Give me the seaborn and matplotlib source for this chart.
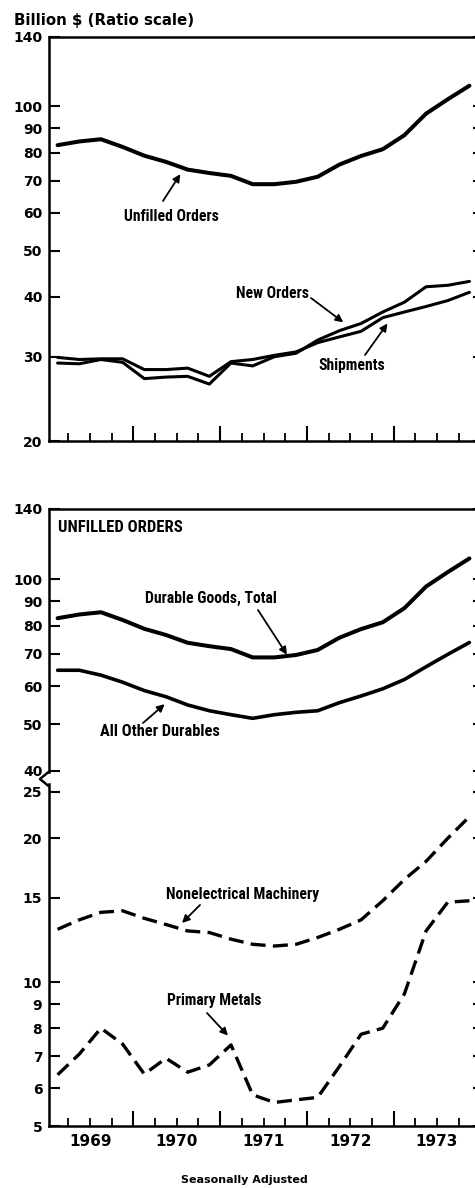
import matplotlib
matplotlib.use("Agg")
import matplotlib.pyplot as plt
from matplotlib.lines import Line2D
from matplotlib.ticker import FixedLocator, FixedFormatter, NullLocator
import seaborn as sns

# ── Data: durable goods, quarterly, Q1 1969 .. Q4 1973 (billion $) ──
years = [1969, 1970, 1971, 1972, 1973]
quarters = [(y, q) for y in years for q in (1, 2, 3, 4)]
t = [y + (q - 0.5) / 4 for y, q in quarters]

unfilled_total = [83.0, 84.5, 85.4, 82.3, 78.9, 76.6, 73.8, 72.6, 71.6, 68.8,
                  68.8, 69.6, 71.3, 75.6, 78.8, 81.4, 87.1, 96.6, 103.5, 110.5]
shipments = [29.9, 29.6, 29.7, 29.7, 28.2, 28.2, 28.4, 27.3, 29.3, 29.6,
             30.2, 30.7, 32.1, 33.0, 33.9, 36.2, 37.2, 38.2, 39.3, 40.9]
new_orders = [29.1, 29.0, 29.6, 29.2, 27.0, 27.2, 27.3, 26.3, 29.1, 28.7,
              30.0, 30.5, 32.5, 34.0, 35.2, 37.2, 39.0, 42.0, 42.3, 43.1]
all_other = [64.7, 64.7, 63.2, 61.1, 58.7, 57.0, 54.8, 53.3, 52.3, 51.4,
             52.3, 52.9, 53.3, 55.4, 57.2, 59.2, 61.9, 65.8, 69.8, 73.9]
nonelectrical = [12.9, 13.5, 14.0, 14.1, 13.6, 13.2, 12.8, 12.7, 12.3, 12.0,
                 11.9, 12.0, 12.4, 12.9, 13.5, 14.8, 16.4, 17.9, 20.0, 22.2]
primary_metals = [6.40, 7.07, 8.01, 7.42, 6.42, 6.93, 6.48, 6.71, 7.39, 5.81,
                  5.60, 5.67, 5.74, 6.66, 7.78, 8.01, 9.45, 12.8, 14.7, 14.8]

top_ticks = [20, 30, 40, 50, 60, 70, 80, 90, 100, 140]
upper_ticks = [40, 50, 60, 70, 80, 90, 100, 140]
lower_ticks = [5, 6, 7, 8, 9, 10, 15, 20, 25]

# ── Style ──
sns.set_style("ticks")
plt.rcParams["font.family"] = ["DejaVu Sans"]
plt.rcParams.update({
    "axes.linewidth": 1.8,
    "text.color": "black",
    "axes.edgecolor": "black",
    "axes.labelcolor": "black",
    "xtick.color": "black",
    "ytick.color": "black",
})
NARROW = ["Roboto Condensed", "Open Sans Condensed", "Liberation Sans Narrow",
          "Roboto", "DejaVu Sans"]

W, H = 475, 1188
fig = plt.figure(figsize=(W / 100, H / 100), dpi=100)
renderer = fig.canvas.get_renderer()


def px_axes(left, top, right, bottom):
    return fig.add_axes([left / W, 1 - bottom / H, (right - left) / W, (bottom - top) / H])


def fpx(x, y):
    return (x / W, 1 - y / H)


def label(text, x, y, width, ha="center"):
    # condensed label, sized so that it spans about `width` pixels
    txt = fig.text(*fpx(x, y), text, ha=ha, va="center", family=NARROW,
                   fontweight="bold", fontstretch="condensed", fontsize=11.5)
    w = txt.get_window_extent(renderer).width
    txt.set_fontsize(min(13.5, 11.5 * width / w))
    return txt


XLIM = (1969.02, 1974.043)
major_x = [1970, 1971, 1972, 1973]
minor_x = [y + f for y in years for f in (0.25, 0.5, 0.75)]
minor_lbl = [str(int(v)) if abs(v % 1 - 0.5) < 1e-6 else "" for v in minor_x]


def style_axes(ax, yticks, ylim, xlabels=False, xticks=True):
    ax.set_yscale("log")
    ax.set_ylim(*ylim)
    ax.set_xlim(*XLIM)
    ax.yaxis.set_major_locator(FixedLocator(yticks))
    ax.yaxis.set_major_formatter(FixedFormatter([str(v) for v in yticks]))
    ax.yaxis.set_minor_locator(NullLocator())
    ax.tick_params(axis="y", which="major", direction="in", length=8, width=1.5,
                   left=True, right=True, labelsize=10, pad=4.5)
    for lbl in ax.get_yticklabels():
        lbl.set_fontweight("bold")
    ax.xaxis.set_major_locator(FixedLocator(major_x))
    ax.xaxis.set_minor_locator(FixedLocator(minor_x))
    ax.xaxis.set_major_formatter(FixedFormatter([""] * len(major_x)))
    ax.xaxis.set_minor_formatter(FixedFormatter(minor_lbl if xlabels else [""] * len(minor_x)))
    ax.tick_params(axis="x", which="major", direction="in", length=11, width=1.5,
                   bottom=xticks, top=False)
    ax.tick_params(axis="x", which="minor", direction="in", length=5.5, width=1.3,
                   bottom=xticks, top=False, labelsize=11, pad=6)
    for lbl in ax.get_xticklabels(minor=True):
        lbl.set_fontweight("bold")
    ax.spines["right"].set_visible(False)
    ax.set_xlabel("")
    ax.set_ylabel("")


def draw(ax, values, lw=2.8, dashed=False):
    sns.lineplot(x=t, y=values, ax=ax, color="black", lw=lw,
                 solid_joinstyle="round", solid_capstyle="round")
    if dashed:
        ax.lines[-1].set_dashes([4.5, 2.2])


def arrow(ax, head, tail_px):
    ax.annotate("", xy=head, xycoords="data", xytext=fpx(*tail_px),
                textcoords="figure fraction",
                arrowprops=dict(arrowstyle="-|>", color="black", lw=1.3,
                                mutation_scale=11, shrinkA=0, shrinkB=0))


# ── Top panel: unfilled orders, new orders, shipments ──
ax1 = px_axes(48.5, 36.5, 484, 441)
draw(ax1, unfilled_total, lw=2.9)
draw(ax1, shipments, lw=2.2)
draw(ax1, new_orders, lw=2.2)
style_axes(ax1, top_ticks, (20, 140))

label("Unfilled Orders", 171, 216, 95)
arrow(ax1, (1970.54, 72.2), (163, 201))
label("New Orders", 272, 294, 73)
arrow(ax1, (1972.42, 35.4), (311, 298))
label("Shipments", 352, 365, 67)
arrow(ax1, (1972.93, 35.2), (365, 355))

fig.text(*fpx(14, 20), "Billion $ (Ratio scale)", ha="left", va="center",
         fontsize=10.8, fontweight="bold")

# ── Bottom panel, upper segment: total and all other durables ──
ax2 = px_axes(48.5, 509, 484, 776)
draw(ax2, unfilled_total, lw=2.9)
draw(ax2, all_other, lw=2.6)
style_axes(ax2, upper_ticks, (39.0, 140), xticks=False)
ax2.spines["bottom"].set_visible(False)
ax2.spines["left"].set_bounds(39.8, 140)

label("UNFILLED ORDERS", 58, 528, 124, ha="left")
label("Durable Goods, Total", 211, 598, 132)
arrow(ax2, (1971.77, 69.7), (258, 610))
label("All Other Durables", 160, 731, 120)
arrow(ax2, (1970.36, 55.0), (143, 723))

# ── Bottom panel, lower segment: industry detail ──
ax3 = px_axes(48.5, 776, 484, 1126)
draw(ax3, nonelectrical, lw=2.4, dashed=True)
draw(ax3, primary_metals, lw=2.4, dashed=True)
style_axes(ax3, lower_ticks, (5.0, 27.0), xlabels=True)
ax3.spines["top"].set_visible(False)
ax3.spines["left"].set_bounds(5.0, 26.0)

label("Nonelectrical Machinery", 243, 895, 153)
arrow(ax3, (1970.56, 13.3), (200, 905))
label("Primary Metals", 214, 1001, 95)
arrow(ax3, (1971.09, 7.73), (207, 1013))

# scale break on the left axis
zx, zy = zip(fpx(48.5, 772), fpx(40, 779), fpx(48.5, 786))
fig.add_artist(Line2D(zx, zy, transform=fig.transFigure, color="black", lw=1.8))

fig.text(*fpx(244, 1180), "Seasonally Adjusted", ha="center", va="center",
         fontsize=8, fontweight="bold")

fig.savefig("out.png", dpi=100, facecolor="white")
